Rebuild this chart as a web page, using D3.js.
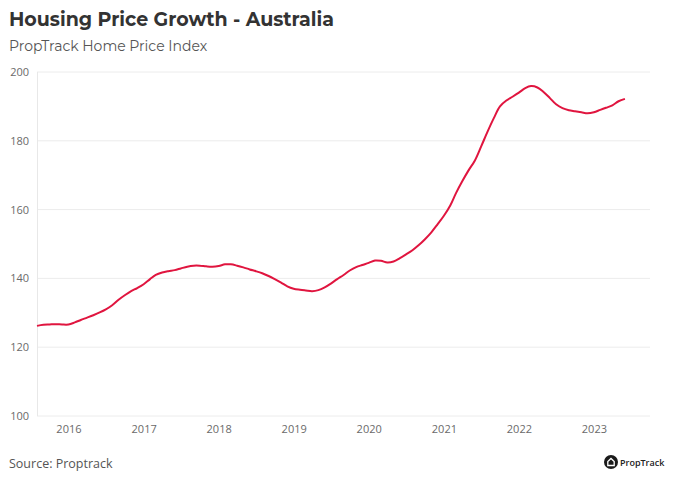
<!DOCTYPE html>
<html><head><meta charset="utf-8">
<script src="https://cdn.jsdelivr.net/npm/d3@7"></script>
<style>body{margin:0;background:#fff}svg{display:block}</style>
</head><body>
<svg id="c" width="684" height="486"></svg>
<script>
const title = "Housing Price Growth - Australia";
const subtitle = "PropTrack Home Price Index";
const source = "Source: Proptrack";
const startMonth = "2015-08";
const indexValues = [
126.2,126.5,126.6,126.7,126.6,
126.6,127.2,127.9,128.6,129.3,130.1,131.0,132.2,133.8,135.1,136.3,137.2,
138.3,139.8,141.0,141.7,142.1,142.4,142.9,143.4,143.7,143.7,143.5,143.4,
143.6,144.1,144.1,143.7,143.2,142.6,142.1,141.5,140.7,139.8,138.8,137.7,
137.0,136.7,136.5,136.3,136.6,137.4,138.5,139.8,141.0,142.3,143.3,143.9,
144.5,145.2,145.1,144.6,144.9,145.9,147.0,148.2,149.7,151.4,153.4,155.7,
158.2,161.2,164.8,168.3,171.4,174.3,178.3,182.6,186.6,190.0,191.7,192.8,
194.0,195.3,195.9,195.5,194.2,192.4,190.6,189.5,188.9,188.6,188.3,188.0,
188.3,189.0,189.6,190.3,191.5,192.2
];
const yTicks = [100,120,140,160,180,200];
const xTickYears = [2016,2017,2018,2019,2020,2021,2022,2023];

const parse = d3.timeParse("%Y-%m");
const t0 = parse(startMonth);
const data = indexValues.map((v,i)=>({date:d3.timeMonth.offset(t0,i), value:v}));

const svg = d3.select("#c");
const L=37, R=650, T=72, B=416;
const x = d3.scaleTime().domain([new Date(2015,7,1), new Date(2023,9,1)]).range([L,R]);
const y = d3.scaleLinear().domain([100,200]).range([B,T]);

svg.append("text").attr("x",9).attr("y",26).text(title)
  .attr("font-family","Montserrat, 'Open Sans', sans-serif").attr("font-weight",700)
  .attr("font-size",19).attr("fill","#333");
svg.append("text").attr("x",9).attr("y",51).text(subtitle)
  .attr("font-family","Montserrat, 'Open Sans', sans-serif").attr("font-size",14).attr("fill","#555");

// grid
svg.append("g").selectAll("line").data(yTicks).join("line")
  .attr("x1",L).attr("x2",R).attr("y1",d=>y(d)).attr("y2",d=>y(d))
  .attr("stroke","#ececec").attr("stroke-width",1);
svg.append("line").attr("x1",L+0.5).attr("x2",L+0.5).attr("y1",T).attr("y2",B)
  .attr("stroke","#e8e8e8");

const yAxis = d3.axisLeft(y).tickValues(yTicks).tickSize(0).tickPadding(8);
const gy = svg.append("g").attr("transform",`translate(${L},0)`).call(yAxis);
gy.select(".domain").remove();
gy.selectAll("text").attr("font-family","'Open Sans', sans-serif").attr("font-size",11).attr("fill","#6a6a6a");

const xAxis = d3.axisBottom(x).tickValues(xTickYears.map(yr=>new Date(yr,0,1)))
  .tickFormat(d3.timeFormat("%Y")).tickSize(0).tickPadding(9);
const gx = svg.append("g").attr("transform",`translate(0,${B})`).call(xAxis);
gx.select(".domain").remove();
gx.selectAll("text").attr("font-family","'Open Sans', sans-serif").attr("font-size",11).attr("fill","#6a6a6a");

const line = d3.line().x(d=>x(d.date)).y(d=>y(d.value)).curve(d3.curveCatmullRom.alpha(0.5));
svg.append("path").datum(data).attr("d",line).attr("fill","none")
  .attr("stroke","#e0153f").attr("stroke-width",2).attr("stroke-linejoin","round");

svg.append("text").attr("x",9).attr("y",468).text(source)
  .attr("font-family","'Open Sans', sans-serif").attr("font-size",12.5).attr("fill","#555");

// logo
const lg = svg.append("g").attr("transform","translate(611,462)");
lg.append("circle").attr("r",7).attr("fill","#1a1a1a");
lg.append("path").attr("d","M-3.2,3.5 L-3.2,-0.5 L0,-3.5 L3.2,-0.5 L3.2,3.5 Z")
  .attr("fill","none").attr("stroke","#fff").attr("stroke-width",1.3);
lg.append("text").attr("x",9).attr("y",3.5).text("PropTrack")
  .attr("font-family","'Open Sans', sans-serif").attr("font-weight",600)
  .attr("font-size",9).attr("fill","#222");
</script>
</body></html>
